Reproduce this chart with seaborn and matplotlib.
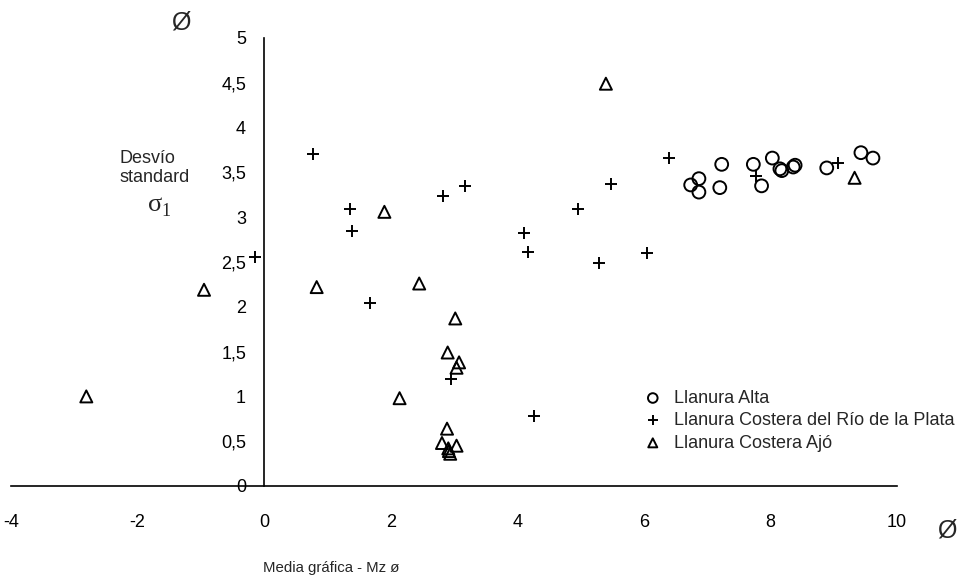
import numpy as np
import pandas as pd
import matplotlib
matplotlib.use('Agg')
import matplotlib.pyplot as plt
import seaborn as sns

# Mean grain size (Mz, phi) and standard deviation (sigma 1) per sample group
alta_x = [6.74, 6.87, 6.87, 7.23, 7.20, 7.73, 7.86, 8.03, 8.15, 8.18, 8.36, 8.39, 8.89, 9.43, 9.62]
alta_y = [3.36, 3.43, 3.28, 3.59, 3.33, 3.59, 3.35, 3.66, 3.54, 3.52, 3.56, 3.58, 3.55, 3.72, 3.66]

plata_x = [-0.15, 0.77, 1.36, 1.39, 1.67, 2.82, 3.18, 4.11, 4.17, 4.96, 5.29, 5.48, 6.05, 6.39, 7.77, 9.06, 2.95, 4.27]
plata_y = [2.56, 3.71, 3.09, 2.85, 2.04, 3.24, 3.35, 2.82, 2.61, 3.09, 2.49, 3.37, 2.60, 3.66, 3.46, 3.61, 1.19, 0.78]

ajo_x = [-2.81, -0.95, 0.83, 1.90, 2.45, 5.40, 3.02, 2.90, 3.08, 3.04, 2.14, 2.89, 2.81, 2.91, 3.04, 2.94, 2.92, 9.33]
ajo_y = [1.00, 2.19, 2.22, 3.06, 2.26, 4.49, 1.87, 1.49, 1.38, 1.32, 0.98, 0.64, 0.48, 0.42, 0.45, 0.36, 0.39, 3.44]

labels = ['Llanura Alta', 'Llanura Costera del Río de la Plata', 'Llanura Costera Ajó']
x_ticks = [-4, -2, 0, 2, 4, 6, 8, 10]
y_ticks = [0, 0.5, 1, 1.5, 2, 2.5, 3, 3.5, 4, 4.5, 5]
y_ticklabels = ['0', '0,5', '1', '1,5', '2', '2,5', '3', '3,5', '4', '4,5', '5']

sns.set_style('white')
plt.rcParams['font.family'] = ['Liberation Sans', 'DejaVu Sans']

W, H = 957, 581
fig = plt.figure(figsize=(W / 100, H / 100), dpi=100)
ax = fig.add_axes([11 / W, 1 - 486 / H, 886 / W, 448 / H])

sns.scatterplot(x=alta_x, y=alta_y, ax=ax, marker='o', s=85, facecolor='none',
                edgecolor='black', linewidth=1.4, label=labels[0])
sns.scatterplot(x=plata_x, y=plata_y, ax=ax, marker='+', s=75, color='black',
                linewidth=1.4, label=labels[1])
sns.scatterplot(x=ajo_x, y=ajo_y, ax=ax, marker='^', s=75, facecolor='none',
                edgecolor='black', linewidth=1.4, label=labels[2])

ax.set_xlim(-4, 10)
ax.set_ylim(0, 5)
ax.spines['left'].set_position(('data', 0))
ax.spines['right'].set_visible(False)
ax.spines['top'].set_visible(False)
for s in ['left', 'bottom']:
    ax.spines[s].set_color('black')
    ax.spines[s].set_linewidth(1.2)

ax.set_xticks(x_ticks)
ax.set_xticklabels([str(t) for t in x_ticks])
ax.set_yticks(y_ticks)
ax.set_yticklabels(y_ticklabels)
ax.tick_params(axis='x', direction='out', length=6, width=1.2, pad=14, labelsize=13, colors='black')
ax.tick_params(axis='y', direction='out', length=5, width=1.2, pad=8, labelsize=13, colors='black')
ax.grid(False)

leg = ax.legend(loc='upper left', bbox_to_anchor=(0.705, 0.235), frameon=False,
                fontsize=13, handlelength=0.9, handletextpad=0.7, labelspacing=0.3,
                markerscale=0.75, borderpad=0)

fig.text(181 / W, 1 - 22 / H, 'Ø', fontsize=18, ha='center', va='center')
fig.text(947 / W, 1 - 530 / H, 'Ø', fontsize=18, ha='center', va='center')
fig.text(120 / W, 1 - 158 / H, 'Desvío', fontsize=13, ha='left', va='center')
fig.text(120 / W, 1 - 178 / H, 'standard', fontsize=13, ha='left', va='center')
fig.text(155 / W, 1 - 205 / H, 'σ', fontsize=19, family='Liberation Serif', ha='center', va='center')
fig.text(166 / W, 1 - 211 / H, '1', fontsize=13, family='Liberation Serif', ha='center', va='center')
fig.text(331 / W, 1 - 568 / H, 'Media gráfica - Mz ø', fontsize=10.8,
         family=['Liberation Sans Narrow', 'Liberation Sans'], ha='center', va='center')

fig.savefig('out.png', dpi=100, facecolor='white')
